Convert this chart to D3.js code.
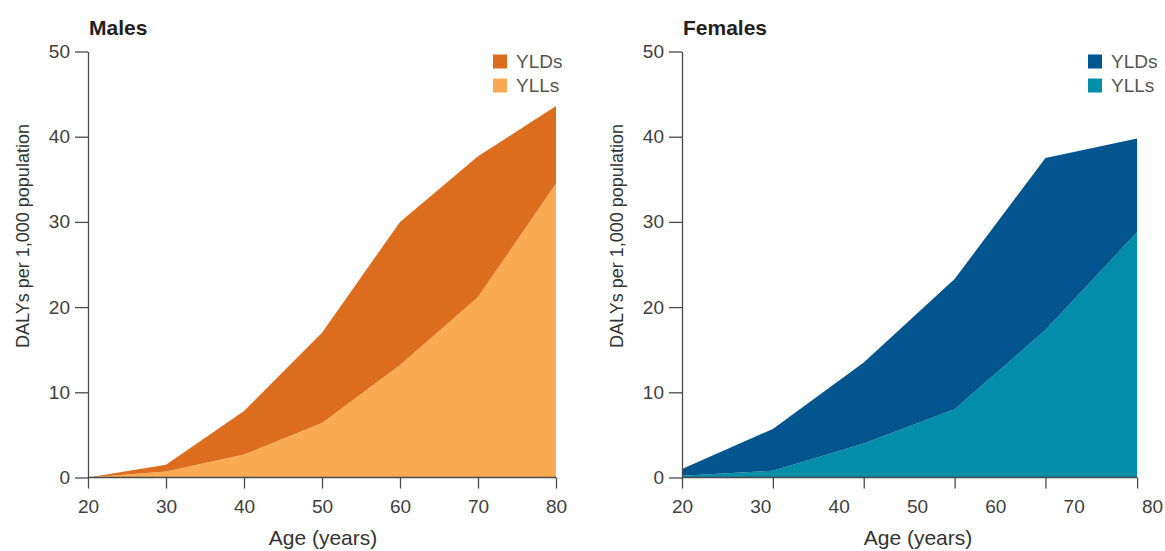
<!DOCTYPE html>
<html>
<head>
<meta charset="utf-8">
<script src="https://cdn.jsdelivr.net/npm/d3@7"></script>
<style>
  html, body { margin: 0; padding: 0; background: #fff; }
  svg { display: block; font-family: "Liberation Sans", Arial, sans-serif; }
  .axis .domain, .axis line { stroke: #4a4a4a; stroke-width: 1.3; }
  .axis text { font-size: 19px; fill: #404040; font-family: "Liberation Sans", Arial, sans-serif; }
</style>
</head>
<body>
<svg id="chart" width="1165" height="551"></svg>
<script>
// Age axis labels and value axis ticks
const ageLabels = [20, 30, 40, 50, 60, 70, 80];
const yTicks = [0, 10, 20, 30, 40, 50];
const legendKeys = ["YLDs", "YLLs"];

// Males: DALYs per 1,000 population by age
const maleAges = [20, 30, 40, 50, 60, 70, 80];
const maleYLLs = [0, 0.7, 2.7, 6.4, 13.2, 21.2, 34.5];
const maleYLDs = [0, 0.8, 5.1, 10.6, 16.8, 16.5, 9.1];

// Females: DALYs per 1,000 population by age
const femaleAges = [20, 31.6, 43.2, 54.8, 66.4, 78.1];
const femaleYLLs = [0.2, 0.8, 4.0, 8.0, 17.3, 28.8];
const femaleYLDs = [0.8, 4.9, 9.5, 15.3, 20.2, 11.0];

const panels = [
  { title: "Males", left: 88, width: 468, ages: maleAges, ylls: maleYLLs, ylds: maleYLDs,
    colors: { YLDs: "#dc6d1e", YLLs: "#f9aa52" }, legendX: 493 },
  { title: "Females", left: 682, width: 470, ages: femaleAges, ylls: femaleYLLs, ylds: femaleYLDs,
    colors: { YLDs: "#02558f", YLLs: "#028ea8" }, legendX: 1088 }
];

const svg = d3.select("#chart");
const plotTop = 51.5, plotBottom = 477.5;

function drawPanel(p) {
  const g = svg.append("g");
  const x = d3.scaleLinear().domain([20, 80]).range([p.left, p.left + p.width]);
  const y = d3.scaleLinear().domain([0, 50]).range([plotBottom, plotTop]);

  // stacked areas: YLLs underneath, YLDs on top
  const rows = p.ages.map((a, i) => ({ age: a, YLLs: p.ylls[i], YLDs: p.ylds[i] }));
  const series = d3.stack().keys(["YLLs", "YLDs"])(rows);
  const area = d3.area()
    .x(d => x(d.data.age))
    .y0(d => y(d[0]))
    .y1(d => y(d[1]));
  g.selectAll("path.layer").data(series).join("path")
    .attr("class", "layer")
    .attr("fill", d => p.colors[d.key])
    .attr("d", area);

  // y axis
  g.append("g").attr("class", "axis")
    .attr("transform", `translate(${p.left},0)`)
    .call(d3.axisLeft(y).tickValues(yTicks).tickSize(13).tickPadding(5).tickSizeOuter(0));

  // x axis line with tick marks at the age groups
  const xMax = d3.max(p.ages);
  const xa = g.append("g").attr("class", "axis")
    .attr("transform", `translate(0,${plotBottom})`)
    .call(d3.axisBottom(x).tickValues(p.ages).tickFormat("").tickSize(11).tickSizeOuter(0));
  xa.select(".domain").attr("d", `M${x(20)},0H${x(xMax)}`);

  // x tick labels
  const xl = g.append("g").attr("class", "axis")
    .attr("transform", `translate(0,${plotBottom})`)
    .call(d3.axisBottom(x).tickValues(ageLabels).tickSize(0).tickPadding(22));
  xl.select(".domain").remove();

  // axis titles
  g.append("text")
    .attr("x", p.left + p.width / 2 + 1)
    .attr("y", 545)
    .attr("text-anchor", "middle")
    .attr("font-size", 21)
    .attr("fill", "#333")
    .text("Age (years)");

  g.append("text")
    .attr("transform", `translate(${p.left - 59},236) rotate(-90)`)
    .attr("text-anchor", "middle")
    .attr("font-size", 18)
    .attr("fill", "#333")
    .text("DALYs per 1,000 population");

  // panel title
  g.append("text")
    .attr("x", p.left + 1)
    .attr("y", 35)
    .attr("font-size", 21)
    .attr("font-weight", "bold")
    .attr("fill", "#231f20")
    .text(p.title);

  // legend
  const lg = g.append("g").attr("transform", `translate(${p.legendX},0)`);
  legendKeys.forEach((k, i) => {
    lg.append("rect")
      .attr("x", 0).attr("y", 54.5 + i * 24)
      .attr("width", 14).attr("height", 14)
      .attr("fill", p.colors[k]);
    lg.append("text")
      .attr("x", 23).attr("y", 68 + i * 24)
      .attr("font-family", "'Liberation Sans Narrow', 'Arial Narrow', 'Liberation Sans', sans-serif")
      .attr("font-size", 19)
      .attr("fill", "#555")
      .text(k);
  });
}

panels.forEach(drawPanel);
</script>
</body>
</html>
